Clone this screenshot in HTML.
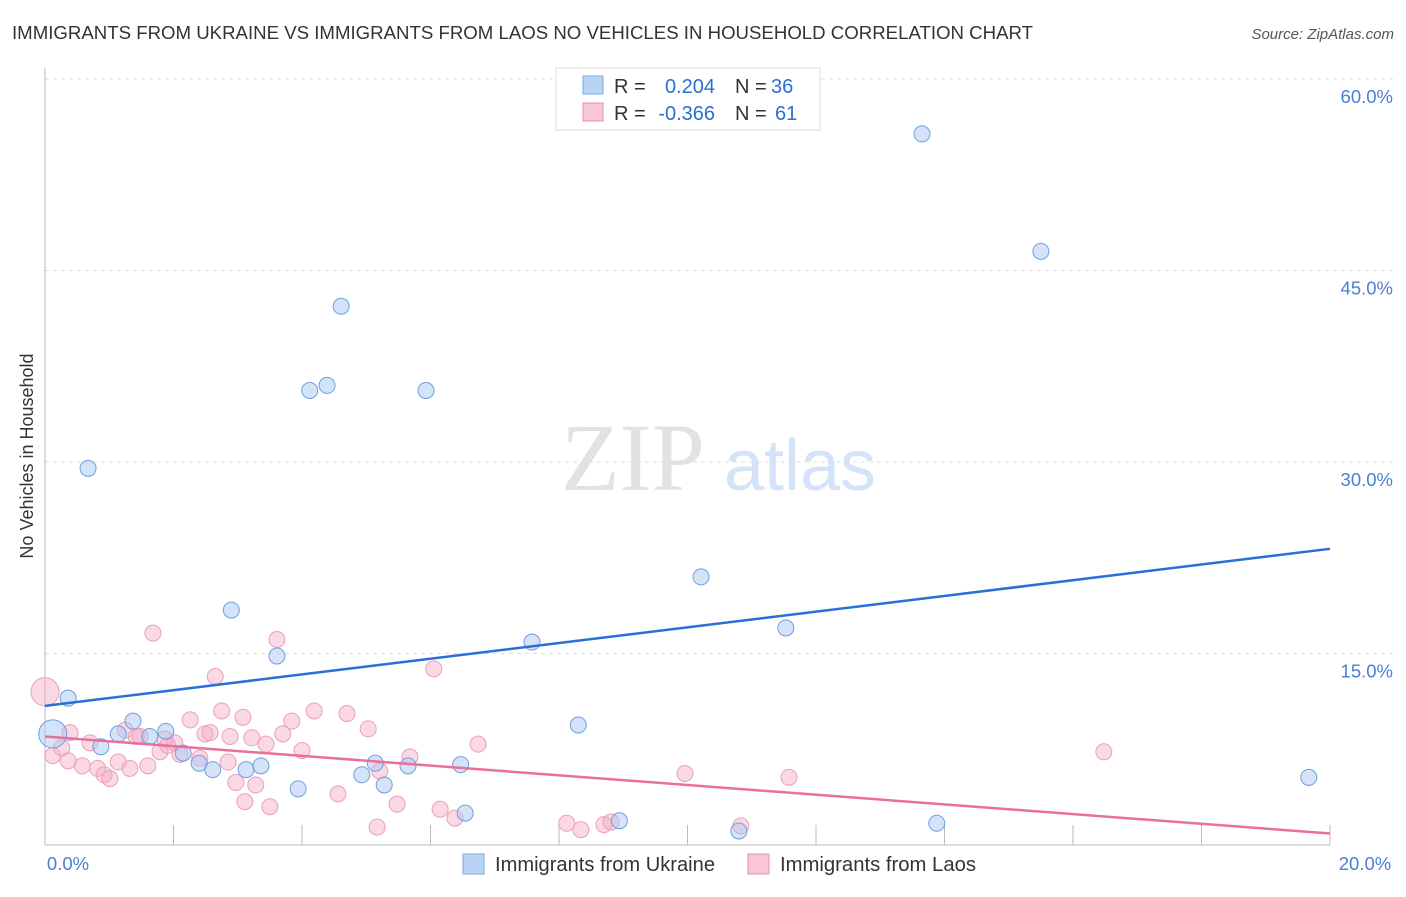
<!DOCTYPE html>
<html><head><meta charset="utf-8"><style>
body{margin:0;background:#fff;font-family:"Liberation Sans",sans-serif}
</style></head><body>
<svg id="c" width="1406" height="892" xmlns="http://www.w3.org/2000/svg" style="font-family:'Liberation Sans',sans-serif">
<text x="12" y="39" font-size="18.5" fill="#333" textLength="1021" lengthAdjust="spacingAndGlyphs">IMMIGRANTS FROM UKRAINE VS IMMIGRANTS FROM LAOS NO VEHICLES IN HOUSEHOLD CORRELATION CHART</text>
<text x="1394" y="39" font-size="15" fill="#555" text-anchor="end" font-style="italic">Source: ZipAtlas.com</text>
<text x="33" y="456" font-size="18" fill="#333" text-anchor="middle" transform="rotate(-90 33 456)">No Vehicles in Household</text>
<g><text x="633" y="490" font-size="96" fill="#e2e2e2" text-anchor="middle" font-family="Liberation Serif,serif">ZIP</text><text x="800" y="490" font-size="72" fill="#d4e3f7" text-anchor="middle">atlas</text></g>
<g id="grid"></g><g id="marks"></g><g id="lines"></g>
<g font-size="20">
<rect x="556" y="68" width="264" height="62" fill="#fff" stroke="#ddd"/>
<rect x="583" y="76" width="20" height="18" fill="#b9d3f5" stroke="#7fa8e0"/>
<text x="614" y="93" fill="#333">R =</text><text x="715" y="93" fill="#2a6fd6" text-anchor="end">0.204</text>
<text x="735" y="93" fill="#333">N =</text><text x="771" y="93" fill="#2a6fd6">36</text>
<rect x="583" y="103" width="20" height="18" fill="#f8c6d5" stroke="#e890ac"/>
<text x="614" y="120" fill="#333">R =</text><text x="715" y="120" fill="#2a6fd6" text-anchor="end">-0.366</text>
<text x="735" y="120" fill="#333">N =</text><text x="775" y="120" fill="#2a6fd6">61</text>
</g>
<g>
<rect x="463" y="854" width="21" height="20" fill="#b9d3f5" stroke="#7fa8e0"/>
<text x="495" y="871" font-size="20" fill="#333" textLength="220" lengthAdjust="spacingAndGlyphs">Immigrants from Ukraine</text>
<rect x="748" y="854" width="21" height="20" fill="#f8c6d5" stroke="#e890ac"/>
<text x="780" y="871" font-size="20" fill="#333" textLength="196" lengthAdjust="spacingAndGlyphs">Immigrants from Laos</text>
</g>
</svg>
<script>
const xTicks=[0,20];
const xTickLabels=["0.0%","20.0%"];
const yTicks=[15,30,45,60];
const yTickLabels=["15.0%","30.0%","45.0%","60.0%"];
const ukraineX=[0.67,0.36,0.12,0.87,1.37,1.14,1.63,1.88,2.15,2.40,2.61,2.90,3.13,3.36,3.61,3.94,4.12,4.39,4.61,4.93,5.14,5.28,5.65,5.93,6.47,6.54,7.58,8.30,8.94,10.21,10.80,11.53,13.65,13.88,15.50,19.67];
const ukraineY=[29.5,11.5,8.7,7.7,9.7,8.7,8.5,8.9,7.2,6.4,5.9,18.4,5.9,6.2,14.8,4.4,35.6,36.0,42.2,5.5,6.4,4.7,6.2,35.6,6.3,2.5,15.9,9.4,1.9,21.0,1.1,17.0,55.7,1.7,46.5,5.3];
const ukraineR=[8,8,14,8,8,8,8,8,8,8,8,8,8,8,8,8,8,8,8,8,8,8,8,8,8,8,8,8,8,8,8,8,8,8,8,8];
const laosX=[0,0.12,0.26,0.39,0.36,0.58,0.70,0.82,0.92,1.01,1.14,1.25,1.32,1.48,1.60,1.68,1.79,1.91,2.02,2.10,2.26,2.41,2.49,2.57,2.65,2.75,2.85,2.97,3.08,3.11,3.22,3.28,3.44,3.50,3.61,3.70,3.84,4.00,4.19,4.56,4.70,5.03,5.17,5.21,5.48,5.68,6.05,6.15,6.38,6.74,8.12,8.34,8.70,8.81,9.96,10.83,11.58,16.48,1.42,2.88,1.87];
const laosY=[12.0,7.0,7.6,8.8,6.6,6.2,8.0,6.0,5.5,5.2,6.5,9.0,6.0,8.5,6.2,16.6,7.3,7.8,8.0,7.1,9.8,6.8,8.7,8.8,13.2,10.5,6.5,4.9,10.0,3.4,8.4,4.7,7.9,3.0,16.1,8.7,9.7,7.4,10.5,4.0,10.3,9.1,1.4,5.8,3.2,6.9,13.8,2.8,2.1,7.9,1.7,1.2,1.6,1.8,5.6,1.5,5.3,7.3,8.5,8.5,8.3];
const blueLine=[10.9,23.2];
const pinkLine=[8.5,0.9];
const L=45,R=1330,B=845,T=79;
const xs=v=>L+(R-L)*v/20, ys=v=>B-(B-T)*v/60;
const NS="http://www.w3.org/2000/svg";
function mk(t,a,p){const e=document.createElementNS(NS,t);for(const k in a)e.setAttribute(k,a[k]);p.appendChild(e);return e;}
const grid=document.getElementById('grid'),marks=document.getElementById('marks'),lines=document.getElementById('lines');
yTicks.forEach((v,i)=>{
 const g=mk('line',{x1:L,x2:1394,y1:ys(v),y2:ys(v),stroke:'#ddd','stroke-dasharray':'4,4'},grid);
 
 
 const t=mk('text',{x:1393,y:ys(v)+24,'font-size':18.5,fill:'#4a7fd4','text-anchor':'end'},grid);t.textContent=yTickLabels[i];
 
 
});
const ax=mk('line',{x1:L,x2:L,y1:68,y2:B,stroke:'#bbb'},grid);


const bx=mk('line',{x1:L,x2:R,y1:B,y2:B,stroke:'#bbb'},grid);


for(let i=1;i<=10;i++){const tk=mk('line',{x1:xs(i*2),x2:xs(i*2),y1:B-20,y2:B,stroke:'#bbb'},grid);
 
 }
xTicks.forEach((v,i)=>{const t=mk('text',{x:v==0?68:1365,y:870,'font-size':18.5,fill:'#4a7fd4','text-anchor':'middle'},grid);t.textContent=xTickLabels[i];
 
 });
laosX.forEach((v,i)=>{const c=mk('circle',{cx:xs(v),cy:ys(laosY[i]),r:i==0?14:8,fill:'rgba(245,170,195,0.45)',stroke:'#eaa0b8','stroke-width':1},marks);
 
 });
ukraineX.forEach((v,i)=>{const c=mk('circle',{cx:xs(v),cy:ys(ukraineY[i]),r:ukraineR[i],fill:'rgba(170,200,240,0.5)',stroke:'#6f9fe0','stroke-width':1},marks);
 
 });
const bl=mk('line',{x1:xs(0),y1:ys(blueLine[0]),x2:xs(20),y2:ys(blueLine[1]),stroke:'#2a6fd6','stroke-width':2.5},lines);


const pl=mk('line',{x1:xs(0),y1:ys(pinkLine[0]),x2:xs(20),y2:ys(pinkLine[1]),stroke:'#e8709a','stroke-width':2.5},lines);


</script>
</body></html>
